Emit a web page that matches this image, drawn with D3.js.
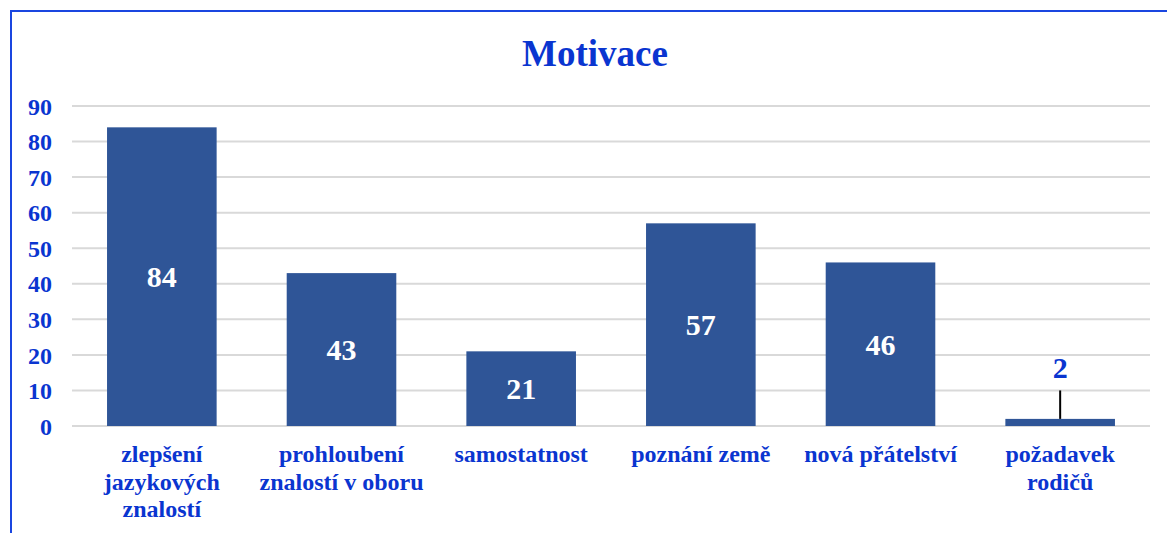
<!DOCTYPE html>
<html>
<head>
<meta charset="utf-8">
<script src="https://cdn.jsdelivr.net/npm/d3@7"></script>
<style>
  body { margin: 0; background: #fff; }
  svg { display: block; }
</style>
</head>
<body>
<div id="chart"></div>
<script>
// chart values
var categories = [["zlepšení", "jazykových", "znalostí"], ["prohloubení", "znalostí v oboru"], ["samostatnost"], ["poznání země"], ["nová přátelství"], ["požadavek", "rodičů"]]
var values = [84, 43, 21, 57, 46, 2]
var yTicks = [0, 10, 20, 30, 40, 50, 60, 70, 80, 90]
var title = "Motivace"

var width = 1167
var height = 533
var margin = { top: 106, right: 17, bottom: 107, left: 72 }
var blue = "#0a35d0"
var barColor = "#2f5597"
var font = "'Liberation Serif', 'Times New Roman', serif"

var svg = d3.select("#chart")
  .append("svg")
    .attr("width", width)
    .attr("height", height)

// chart area border (only top and left visible in the crop)
svg.append("path")
  .attr("d", "M11," + height + " V11 H" + width)
  .attr("fill", "none")
  .attr("stroke", "#1a46e0")
  .attr("stroke-width", 2)

var x = d3.scaleBand()
  .domain(d3.range(values.length))
  .range([margin.left, width - margin.right])
  .paddingInner(0.39)
  .paddingOuter(0.195)

var y = d3.scaleLinear()
  .domain([0, 90])
  .range([height - margin.bottom, margin.top])

// gridlines
svg.append("g")
  .selectAll("line")
  .data(yTicks)
  .enter()
  .append("line")
    .attr("x1", margin.left)
    .attr("x2", width - margin.right)
    .attr("y1", function(d){ return y(d) })
    .attr("y2", function(d){ return y(d) })
    .attr("stroke", "#d9d9d9")
    .attr("stroke-width", 2)

// y axis labels
var yAxis = d3.axisLeft(y).tickValues(yTicks).tickSize(0).tickPadding(0)
svg.append("g")
  .attr("transform", "translate(52,0)")
  .call(yAxis)
  .call(function(g){ g.select(".domain").remove() })
  .selectAll("text")
    .attr("fill", blue)
    .style("font-family", font)
    .style("font-size", "24px")
    .style("font-weight", "bold")
    .attr("dy", "0.34em")

// bars
svg.append("g")
  .selectAll("rect")
  .data(values)
  .enter()
  .append("rect")
    .attr("x", function(d, i){ return x(i) })
    .attr("y", function(d){ return y(d) })
    .attr("width", x.bandwidth())
    .attr("height", function(d){ return y(0) - y(d) })
    .attr("fill", barColor)

// value labels: inside for big bars, above with leader line for tiny ones
var labels = svg.append("g")
values.forEach(function(d, i){
  var cx = x(i) + x.bandwidth() / 2
  if (y(0) - y(d) > 40) {
    labels.append("text")
      .attr("x", cx)
      .attr("y", (y(d) + y(0)) / 2)
      .attr("dy", "0.35em")
      .attr("text-anchor", "middle")
      .attr("fill", "#fff")
      .style("font-family", font)
      .style("font-size", "30px")
      .style("font-weight", "bold")
      .text(d)
  } else {
    labels.append("line")
      .attr("x1", cx).attr("x2", cx)
      .attr("y1", y(10)).attr("y2", y(d))
      .attr("stroke", "#000")
      .attr("stroke-width", 2)
    labels.append("text")
      .attr("x", cx)
      .attr("y", y(10) - 23)
      .attr("dy", "0.35em")
      .attr("text-anchor", "middle")
      .attr("fill", blue)
      .style("font-family", font)
      .style("font-size", "30px")
      .style("font-weight", "bold")
      .text(d)
  }
})

// x labels
var xl = svg.append("g")
  .selectAll("text")
  .data(categories)
  .enter()
  .append("text")
    .attr("text-anchor", "middle")
    .attr("fill", blue)
    .style("font-family", font)
    .style("font-size", "24px")
    .style("font-weight", "bold")

xl.selectAll("tspan")
  .data(function(d, i){ return d.map(function(s){ return { s: s, i: i } }) })
  .enter()
  .append("tspan")
    .attr("x", function(d){ return x(d.i) + x.bandwidth() / 2 })
    .attr("y", function(d, j){ return 462 + j * 27.5 })
    .text(function(d){ return d.s })

// title
svg.append("text")
  .attr("x", 595)
  .attr("y", 66)
  .attr("text-anchor", "middle")
  .attr("fill", blue)
  .style("font-family", font)
  .style("font-size", "37px")
  .style("font-weight", "bold")
  .text(title)
</script>
</body>
</html>
